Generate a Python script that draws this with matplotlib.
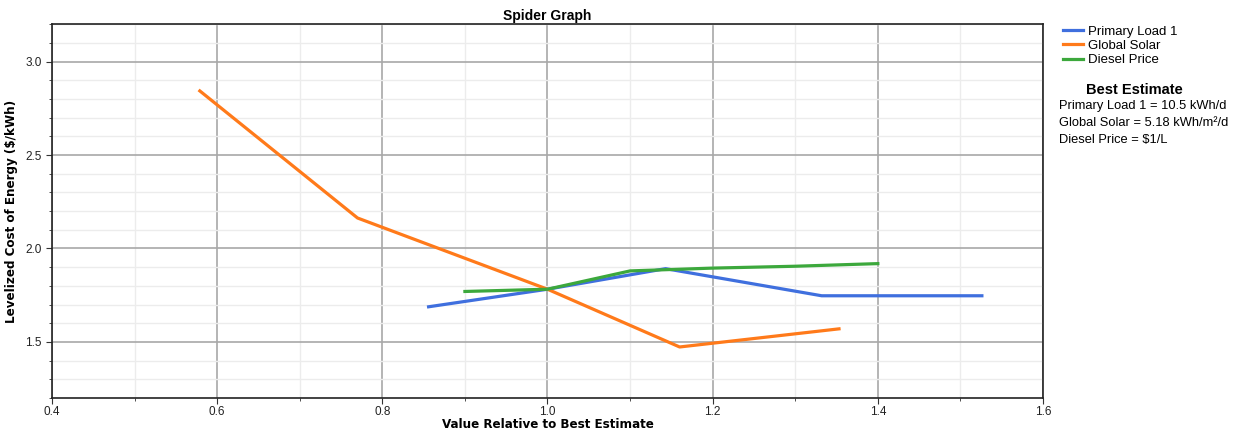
import matplotlib
matplotlib.use('Agg')
import matplotlib.pyplot as plt
from matplotlib.ticker import MultipleLocator

plt.rcParams['font.family'] = ['Liberation Sans', 'DejaVu Sans']

# sensitivity series: value relative to best estimate -> LCOE ($/kWh)
load_x = [0.856, 1.0, 1.143, 1.332, 1.526]
load_y = [1.688, 1.782, 1.892, 1.747, 1.747]

solar_x = [0.579, 0.770, 1.0, 1.160, 1.353]
solar_y = [2.843, 2.163, 1.782, 1.473, 1.570]

diesel_x = [0.90, 1.0, 1.10, 1.20, 1.30, 1.40]
diesel_y = [1.770, 1.782, 1.880, 1.895, 1.905, 1.919]

series_names = ['Primary Load 1', 'Global Solar', 'Diesel Price']
series_colors = ['#3f6fde', '#ff7a1a', '#3ca83c']

best_estimate = ['Primary Load 1 = 10.5 kWh/d',
                 'Global Solar = 5.18 kWh/m\u00b2/d',
                 'Diesel Price = $1/L']

fig = plt.figure(figsize=(12.47, 4.32), dpi=100)
ax = fig.add_axes([0.0417, 0.0787, 0.7947, 0.8653])

lines = []
for xs, ys, c in zip([load_x, solar_x, diesel_x], [load_y, solar_y, diesel_y], series_colors):
    ln, = ax.plot(xs, ys, color=c, lw=2.3, solid_joinstyle='round')
    lines.append(ln)

ax.set_xlim(0.4, 1.6)
ax.set_ylim(1.2, 3.2)
ax.xaxis.set_major_locator(MultipleLocator(0.2))
ax.xaxis.set_minor_locator(MultipleLocator(0.1))
ax.yaxis.set_major_locator(MultipleLocator(0.5))
ax.yaxis.set_minor_locator(MultipleLocator(0.1))
ax.xaxis.set_major_formatter(lambda v, p: f'{v:.1f}')
ax.yaxis.set_major_formatter(lambda v, p: f'{v:.1f}')

ax.grid(which='major', color='#a8a8a8', lw=1.2)
ax.grid(which='minor', color='#ececec', lw=1.0)
ax.set_axisbelow(True)
ax.tick_params(which='both', direction='out', labelsize=8.5, colors='#333333', labelcolor='#222222')
ax.tick_params(which='major', length=4)
ax.tick_params(which='minor', length=2.5)
ax.tick_params(axis='x', pad=1.5)
for s in ax.spines.values():
    s.set_color('#222222')
    s.set_linewidth(1.2)

label_font = dict(fontsize=9.5, fontweight='bold', family='DejaVu Sans', fontstretch='condensed')
ax.set_title('Spider Graph', fontsize=10, fontweight='bold', pad=3)
ax.set_xlabel('Value Relative to Best Estimate', labelpad=0, **label_font)
ax.set_ylabel('Levelized Cost of Energy ($/kWh)', labelpad=5, **label_font)

fig.legend(lines, series_names, loc='upper left', bbox_to_anchor=(0.848, 0.953),
           frameon=False, fontsize=9.5, handlelength=1.5, handletextpad=0.4,
           labelspacing=0.15, borderaxespad=0)

fig.text(0.91, 0.792, 'Best Estimate', ha='center', va='center', fontsize=10.5, fontweight='bold')
for i, t in enumerate(best_estimate):
    fig.text(0.849, 0.755 - i * 0.039, t, ha='left', va='center', fontsize=9.3)

fig.savefig('out.png', dpi=100)
